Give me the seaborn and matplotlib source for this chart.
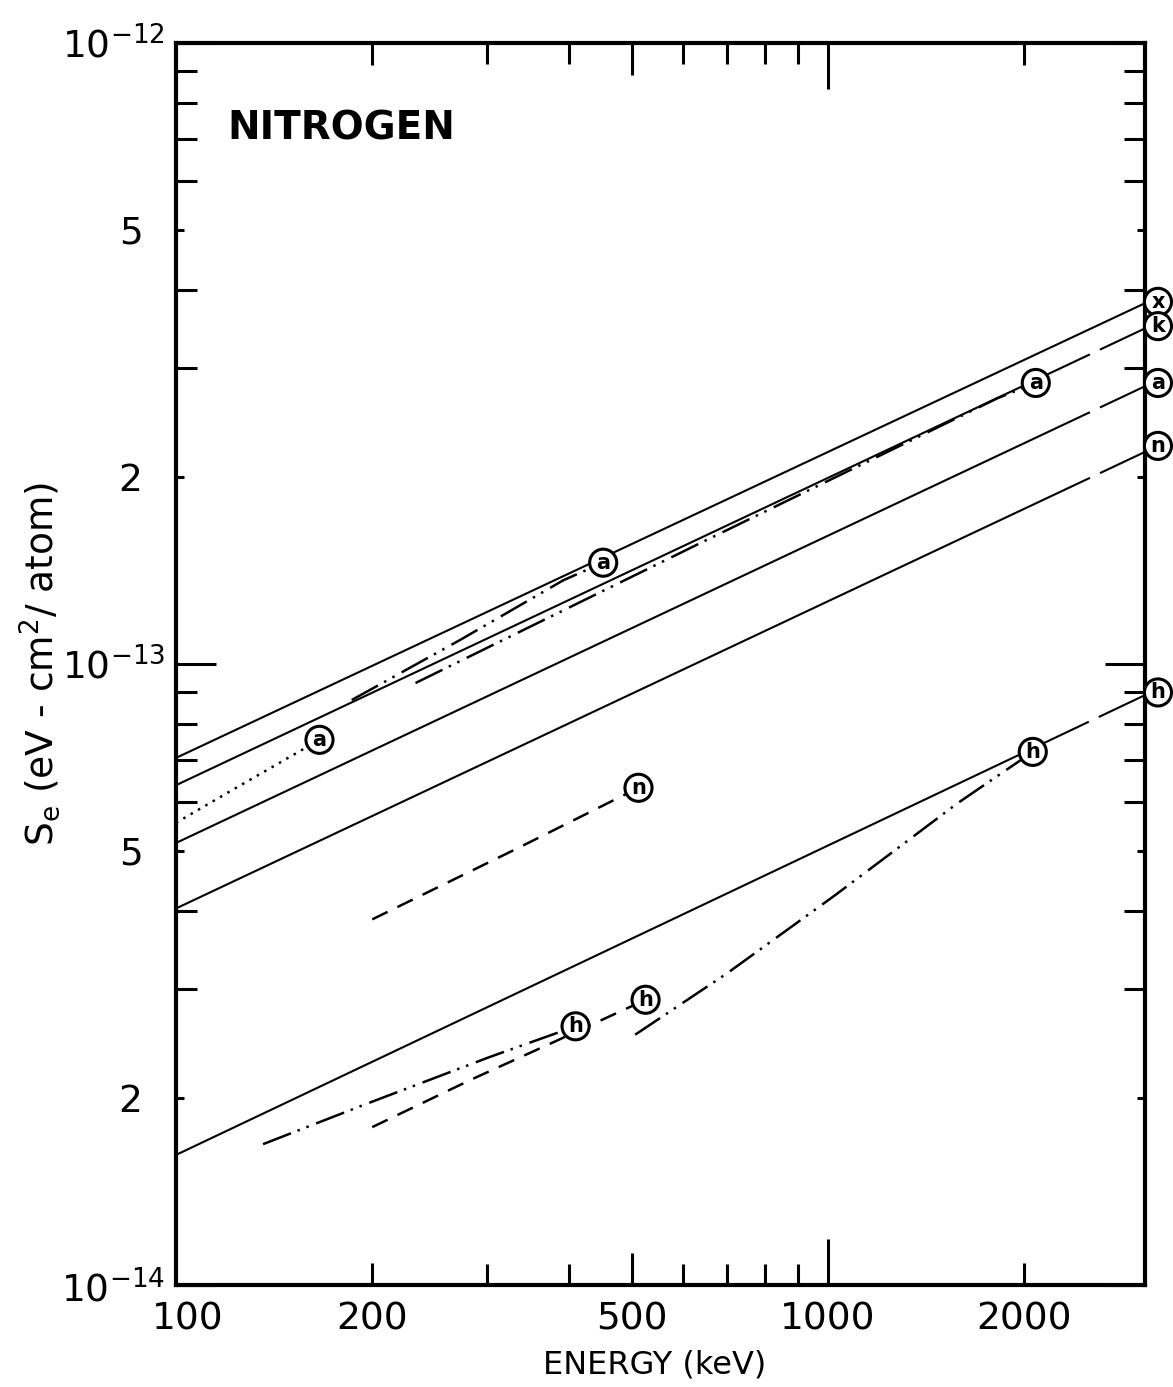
import matplotlib
matplotlib.use("Agg")
import matplotlib.pyplot as plt
import matplotlib.transforms as mtransforms
from matplotlib.ticker import FixedLocator, FixedFormatter, NullFormatter
import pandas as pd
import seaborn as sns

# ---------------------------------------------------------------- data
# axis ranges: energy in keV, electronic stopping cross section in eV cm^2/atom
e_range = [100, 3060]
s_range = [1e-14, 1e-12]

# theoretical curves (straight in log-log), value at both ends of the energy range
theory_energy = [100, 3060]
theory_x = [7.06e-14, 3.81e-13]
theory_k = [6.38e-14, 3.47e-13]
theory_a = [5.15e-14, 2.80e-13]
theory_n = [4.04e-14, 2.195e-13]
theory_h = [1.62e-14, 8.91e-14]

# measured / semi-empirical curves
meas_a1_energy = [100, 124, 166]
meas_a1_s = [5.55e-14, 6.33e-14, 7.55e-14]
meas_a2_energy = [186, 273, 393, 452]
meas_a2_s = [8.75e-14, 1.094e-13, 1.365e-13, 1.456e-13]
meas_a3_energy = [233, 637, 1820, 2082]
meas_a3_s = [9.32e-14, 1.566e-13, 2.68e-13, 2.835e-13]
meas_n_energy = [200, 334, 512]
meas_n_s = [3.88e-14, 5.05e-14, 6.32e-14]
meas_h1_energy = [136, 194, 303, 410]
meas_h1_s = [1.686e-14, 1.95e-14, 2.33e-14, 2.61e-14]
meas_h2_energy = [200, 283, 379, 525]
meas_h2_s = [1.796e-14, 2.14e-14, 2.46e-14, 2.88e-14]
meas_h3_energy = [506, 701, 1027, 1580, 2060]
meas_h3_s = [2.53e-14, 3.18e-14, 4.25e-14, 5.97e-14, 7.22e-14]

# circled curve keys
key_labels = ["a", "a", "a", "n", "h", "h", "h", "x", "k", "a", "n", "h"]
key_energy = [166, 452, 2082, 512, 410, 525, 2060, 3205, 3205, 3205, 3205, 3205]
key_s = [7.55e-14, 1.456e-13, 2.835e-13, 6.32e-14, 2.61e-14, 2.88e-14,
         7.22e-14, 3.83e-13, 3.50e-13, 2.835e-13, 2.245e-13, 9.0e-14]

# tick positions and labels
x_major = [100, 200, 500, 1000, 2000]
x_major_labels = ["100", "200", "500", "1000", "2000"]
x_minor = [300, 400, 600, 700, 800, 900]
y_major = [1e-14, 2e-14, 5e-14, 1e-13, 2e-13, 5e-13, 1e-12]
y_major_labels = [r"$10^{-14}$", "2", "5", r"$10^{-13}$", "2", "5", r"$10^{-12}$"]
y_minor = [3e-14, 4e-14, 6e-14, 7e-14, 8e-14, 9e-14,
           3e-13, 4e-13, 6e-13, 7e-13, 8e-13, 9e-13]

# ---------------------------------------------------------------- tables
theory = pd.concat([
    pd.DataFrame({"energy": theory_energy, "S": vals, "curve": name})
    for name, vals in [("x", theory_x), ("k", theory_k), ("a", theory_a),
                       ("n", theory_n), ("h", theory_h)]
], ignore_index=True)

measured = pd.concat([
    pd.DataFrame({"energy": e, "S": s, "curve": name})
    for name, e, s in [("a1", meas_a1_energy, meas_a1_s),
                       ("a2", meas_a2_energy, meas_a2_s),
                       ("a3", meas_a3_energy, meas_a3_s),
                       ("n", meas_n_energy, meas_n_s),
                       ("h1", meas_h1_energy, meas_h1_s),
                       ("h2", meas_h2_energy, meas_h2_s),
                       ("h3", meas_h3_energy, meas_h3_s)]
], ignore_index=True)

# ---------------------------------------------------------------- styles
sns.set_theme(style="white")
plt.rcParams["font.family"] = ["DejaVu Sans"]
plt.rcParams["mathtext.fontset"] = "dejavusans"
plt.rcParams["text.color"] = "black"
plt.rcParams["axes.labelcolor"] = "black"

long_break = (485, 5.3)
theory_dashes = {"x": "", "k": long_break, "a": long_break,
                 "n": long_break, "h": long_break}
dotted = (1, 2.4)
dashed = (6.8, 4.4)
dash_dot_dot = (12, 2.8, 1, 2.8, 1, 3.2)
measured_dashes = {"a1": dotted, "a2": dash_dot_dot, "a3": dash_dot_dot,
                   "n": dashed, "h1": dash_dot_dot, "h2": dashed,
                   "h3": dash_dot_dot}

fig = plt.figure(figsize=(11.73, 13.87), dpi=100)
ax = fig.add_axes([0.150, 0.0735, 0.826, 0.8955])
ax.set_xscale("log")
ax.set_yscale("log")

sns.lineplot(data=theory, x="energy", y="S", style="curve",
             dashes=theory_dashes, color="black", linewidth=1.5,
             estimator=None, legend=False, ax=ax, zorder=2)
sns.lineplot(data=measured, x="energy", y="S", style="curve",
             dashes=measured_dashes, color="black", linewidth=1.8,
             estimator=None, legend=False, ax=ax, zorder=3)

ax.set_xlim(e_range)
ax.set_ylim(s_range)

# circled keys
for lab, e, s in zip(key_labels, key_energy, key_s):
    ax.text(e, s, lab, ha="center", va="center", fontsize=15,
            fontweight="bold", color="black", zorder=6, clip_on=False,
            bbox=dict(boxstyle="circle,pad=0.17", fc="white",
                      ec="black", lw=2.2))

ax.text(0.0526, 0.931, "NITROGEN", transform=ax.transAxes,
        ha="left", va="center", fontsize=28, fontweight="bold",
        color="black")

# ---------------------------------------------------------------- axes
for sp in ax.spines.values():
    sp.set_visible(True)
    sp.set_linewidth(3)
    sp.set_color("black")

ax.xaxis.set_major_locator(FixedLocator(x_major))
ax.xaxis.set_major_formatter(FixedFormatter(x_major_labels))
ax.xaxis.set_minor_locator(FixedLocator(x_minor))
ax.xaxis.set_minor_formatter(NullFormatter())
ax.yaxis.set_major_locator(FixedLocator(y_major))
ax.yaxis.set_major_formatter(FixedFormatter(y_major_labels))
ax.yaxis.set_minor_locator(FixedLocator(y_minor))
ax.yaxis.set_minor_formatter(NullFormatter())

ax.tick_params(which="both", direction="in", top=True, right=True,
               bottom=True, left=True, width=2.2, color="black",
               labelsize=27, labelcolor="black")
ax.tick_params(which="minor", length=15)
ax.tick_params(axis="x", which="major", pad=12)
ax.tick_params(axis="y", which="major", pad=8)

# individual tick lengths (points)
x_len = {100: 0, 200: 16, 500: 23, 1000: 33, 2000: 16}
for tick, loc in zip(ax.xaxis.get_major_ticks(len(x_major)), x_major):
    tick.tick1line.set_markersize(x_len[loc])
    tick.tick2line.set_markersize(x_len[loc])
for tick, loc, lab in zip(ax.yaxis.get_major_ticks(len(y_major)), y_major,
                          y_major_labels):
    L = 29 if lab.startswith("$") else 23
    tick.tick1line.set_markersize(L)
    tick.tick2line.set_markersize(L)
    if not lab.startswith("$"):
        tick.set_pad(24)

# nudge the first energy label away from the corner label
first = ax.xaxis.get_major_ticks(len(x_major))[0]
first.label1.set_transform(first.label1.get_transform() +
                           mtransforms.ScaledTranslation(12 / 100, 0,
                                                         fig.dpi_scale_trans))

ax.set_xlabel("ENERGY (keV)", fontsize=23, color="black")
ax.set_ylabel(r"S$_\mathregular{e}$ (eV - cm$^\mathregular{2}$/ atom)",
              fontsize=27, color="black")
ax.xaxis.label.set_va("center")
ax.yaxis.label.set_va("center")
ax.xaxis.set_label_coords(0.494, -0.0644)
ax.yaxis.set_label_coords(-0.1403, 0.5)

fig.savefig("out.png", dpi=100, facecolor="white")
